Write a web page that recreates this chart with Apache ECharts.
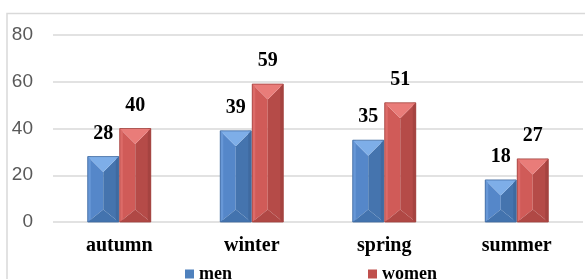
<!DOCTYPE html>
<html>
<head>
<meta charset="utf-8">
<script src="https://cdn.jsdelivr.net/npm/echarts@6/dist/echarts.min.js"></script>
<style>
html,body{margin:0;padding:0;background:#fff;}
#c{width:585px;height:279px;}
</style>
</head>
<body>
<div id="c"></div>
<script>
const categories = ['autumn', 'winter', 'spring', 'summer'];
const menValues = [28, 39, 35, 18];
const womenValues = [40, 59, 51, 27];
const yTicks = [0, 20, 40, 60, 80];

const palettes = {
  men:   { base: '#4f81bd', top: '#7eaee8', left: '#5587c9', right: '#4574ae', bottom: '#4373ae', lstrip: '#6797d6', rstrip: '#3f6aa0', edge: '#4069a0' },
  women: { base: '#c0504d', top: '#e97c79', left: '#d05b58', right: '#b54b48', bottom: '#b04845', lstrip: '#dc6b68', rstrip: '#a54340', edge: '#a2423f' }
};

function makeRender(side, pal) {
  return function (params, api) {
    const i = api.value(0), v = api.value(1);
    const c = api.coord([i, v]);
    const b = api.coord([i, 0]);
    const catW = api.size([1, 0])[0];
    const w = catW * 31 / 132.5;
    const x0 = side < 0 ? c[0] - w - 0.5 : c[0] + 0.5;
    const x1 = x0 + w, xm = x0 + w / 2;
    const top = c[1], bot = b[1];
    const d = Math.min(w / 2, (bot - top) / 2);
    const db = Math.min(w * 0.4, (bot - top) / 2);
    const s = 3;
    return {
      type: 'group',
      children: [
        { type: 'polygon', shape: { points: [[x0, top], [xm, top + d], [xm, bot - db], [x0, bot]] }, style: { fill: pal.left } },
        { type: 'polygon', shape: { points: [[x1, top], [xm, top + d], [xm, bot - db], [x1, bot]] }, style: { fill: pal.right } },
        { type: 'rect', shape: { x: x0, y: top, width: s, height: bot - top }, style: { fill: pal.lstrip } },
        { type: 'rect', shape: { x: x1 - s, y: top, width: s, height: bot - top }, style: { fill: pal.rstrip } },
        { type: 'polygon', shape: { points: [[x0, top], [x1, top], [xm, top + d]] }, style: { fill: pal.top } },
        { type: 'polygon', shape: { points: [[x0, bot], [x1, bot], [xm, bot - db]] }, style: { fill: pal.bottom } },
        { type: 'rect', shape: { x: x0, y: top, width: w, height: bot - top }, style: { fill: 'none', stroke: pal.edge, lineWidth: 0.8 } },
        { type: 'text', style: { text: String(v), x: xm, y: top - 23, align: 'center', verticalAlign: 'middle', font: 'bold 20px "Liberation Serif"', fill: '#000' } }
      ]
    };
  };
}

const chart = echarts.init(document.getElementById('c'), null, { renderer: 'canvas' });
chart.setOption({
  animation: false,
  backgroundColor: '#fff',
  graphic: [{
    type: 'rect', shape: { x: 7, y: 13.5, width: 590, height: 300 },
    style: { fill: 'none', stroke: '#d9d9d9', lineWidth: 1.5 }, silent: true, z: -1
  }],
  grid: { left: 53, right: 2, top: 35, bottom: 57 },
  legend: {
    left: 185, top: 262, padding: 0, itemWidth: 9, itemHeight: 9, itemGap: 136,
    icon: 'rect',
    textStyle: { fontFamily: 'Liberation Serif', fontWeight: 'bold', fontSize: 18, lineHeight: 18, color: '#000', padding: [6, 0, 0, 0] },
    data: ['men', 'women']
  },
  xAxis: {
    type: 'category', data: categories,
    axisLine: { show: false }, axisTick: { show: false },
    axisLabel: { fontFamily: 'Liberation Serif', fontWeight: 'bold', fontSize: 20, color: '#000', margin: 14 }
  },
  yAxis: {
    type: 'value', min: yTicks[0], max: yTicks[yTicks.length - 1], interval: 20,
    axisLine: { show: false }, axisTick: { show: false },
    splitLine: { lineStyle: { color: '#d9d9d9', width: 1.5 } },
    axisLabel: { fontFamily: 'Liberation Sans', fontSize: 19, color: '#595959', margin: 20 }
  },
  series: [
    { name: 'men', type: 'custom', renderItem: makeRender(-1, palettes.men), itemStyle: { color: palettes.men.base },
      data: menValues.map((v, i) => [i, v]), encode: { x: 0, y: 1 } },
    { name: 'women', type: 'custom', renderItem: makeRender(1, palettes.women), itemStyle: { color: palettes.women.base },
      data: womenValues.map((v, i) => [i, v]), encode: { x: 0, y: 1 } }
  ]
});
</script>
</body>
</html>
